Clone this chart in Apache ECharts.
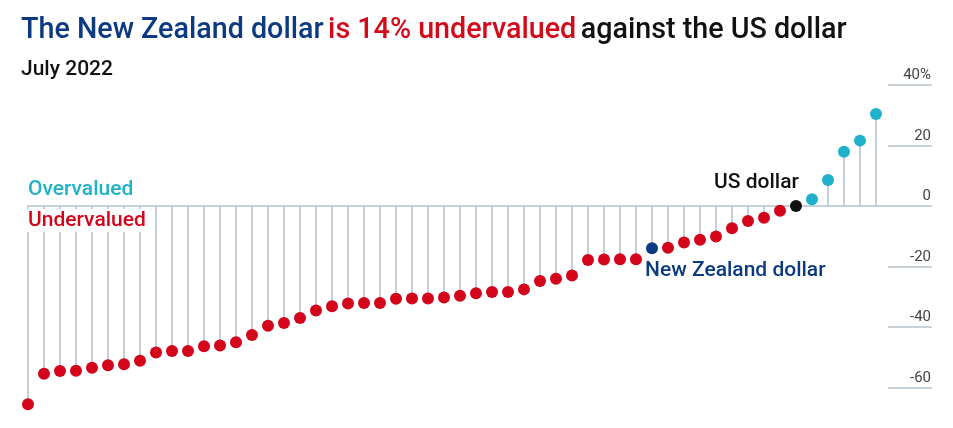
<!DOCTYPE html>
<html>
<head>
<meta charset="utf-8">
<script src="https://cdn.jsdelivr.net/npm/echarts@6/dist/echarts.min.js"></script>
<style>html,body{margin:0;padding:0;background:#fff}#c{width:953px;height:428px}</style>
</head>
<body>
<div id="c"></div>
<script>
// Currencies ranked from most undervalued to most overvalued against the US dollar (%)
var categories = ['1','2','3','4','5','6','7','8','9','10','11','12','13','14','15','16','17','18','19','20',
  '21','22','23','24','25','26','27','28','29','30','31','32','33','34','35','36','37','38','39',
  'New Zealand dollar','41','42','43','44','45','46','47','48','US dollar','50','51','52','53','54'];
var values = [-65.6,-55.5,-54.6,-54.5,-53.5,-52.7,-52.4,-51.2,-48.5,-48.0,-48.0,-46.4,-46.2,-45.1,-42.7,
  -39.6,-38.7,-37.1,-34.6,-33.2,-32.3,-32.1,-32.1,-30.7,-30.6,-30.6,-30.3,-29.7,-28.9,-28.5,-28.5,-27.6,
  -24.8,-24.1,-23.0,-17.9,-17.7,-17.6,-17.6,-14.0,-13.8,-12.1,-11.2,-10.1,-7.4,-5.0,-3.9,-1.6,0,
  2.2,8.6,17.9,21.6,30.4];
var yTicks = [-60,-40,-20,0,20,40];
var highlightNZ = 'New Zealand dollar';
var highlightUS = 'US dollar';

var C_RED = '#d4041a', C_CYAN = '#1fb2ca', C_NAVY = '#0b3a80', C_BLACK = '#111111', C_STEM = '#c6d0d8';

var xCats = categories.concat(['']);
var dots = values.map(function(v, i){
  var name = categories[i];
  var col = name === highlightNZ ? C_NAVY : (name === highlightUS ? C_BLACK : (v < 0 ? C_RED : C_CYAN));
  return {value: v, itemStyle: {color: col, opacity: 1}};
});

var chart = echarts.init(document.getElementById('c'));
var FONT = 'Roboto';
chart.setOption({
  animation: false,
  backgroundColor: '#fff',
  textStyle: {fontFamily: FONT},
  title: [{
    left: 21, top: 16, padding: 0,
    text: '{a|The New Zealand dollar} {b|is 14% undervalued} {c|against the US dollar}',
    textStyle: {
      rich: {
        a: {color: '#0b3a80', fontSize: 28.7, fontWeight: 500, fontFamily: FONT},
        b: {color: '#d40a1a', fontSize: 28.7, fontWeight: 500, fontFamily: FONT},
        c: {color: '#111', fontSize: 28.7, fontWeight: 500, fontFamily: FONT}
      }
    }
  }, {
    left: 21, top: 59, padding: 0,
    text: 'July 2022',
    textStyle: {color: '#111', fontSize: 21, fontWeight: 500, fontFamily: FONT}
  }],
  grid: [
    {left: 28, width: 864, top: 85, height: 362.8, outerBoundsMode: 'none', containLabel: false},
    {left: 888, width: 44, top: 85, height: 362.8, outerBoundsMode: 'none', containLabel: false}
  ],
  xAxis: [
    {type: 'category', gridIndex: 0, data: xCats, boundaryGap: false,
     axisLine: {onZero: true, lineStyle: {color: C_STEM, width: 2}},
     axisTick: {show: false}, axisLabel: {show: false}, splitLine: {show: false}},
    {type: 'value', gridIndex: 1, min: 0, max: 1, show: false}
  ],
  yAxis: [
    {type: 'value', gridIndex: 0, min: -80, max: 40, interval: 20, show: false},
    {type: 'value', gridIndex: 1, min: -80, max: 40, interval: 20, position: 'right',
     axisLine: {show: false}, axisTick: {show: false},
     splitLine: {show: true, lineStyle: {color: '#b9c3cc', width: 1.5}},
     axisLabel: {inside: true, margin: 1, verticalAlign: 'bottom', padding: [0, 0, 2, 0],
       color: '#444', fontSize: 15, fontFamily: FONT,
       formatter: function(v){ return yTicks.indexOf(v) < 0 ? '' : (v === 40 ? '40%' : String(v)); }}}
  ],
  series: [
    {type: 'bar', xAxisIndex: 0, yAxisIndex: 0, data: values, barWidth: 2,
     itemStyle: {color: C_STEM}, z: 2, silent: true},
    {type: 'scatter', xAxisIndex: 0, yAxisIndex: 0, data: dots, symbolSize: 12, z: 5, silent: true}
  ],
  graphic: [
    {type: 'text', left: 28, top: 179, z: 10, style: {text: 'Overvalued', fill: C_CYAN, font: '500 21px ' + FONT}},
    {type: 'text', left: 27, top: 209, z: 10, style: {text: 'Undervalued', fill: C_RED, font: '500 21px ' + FONT,
      backgroundColor: '#fff', padding: [1, 1, 1, 1]}},
    {type: 'text', left: 714, top: 172, z: 10, style: {text: 'US dollar', fill: C_BLACK, font: '500 21px ' + FONT}},
    {type: 'text', left: 645, top: 260, z: 10, style: {text: 'New Zealand dollar', fill: C_NAVY, font: '500 21px ' + FONT}}
  ]
});
</script>
</body>
</html>
